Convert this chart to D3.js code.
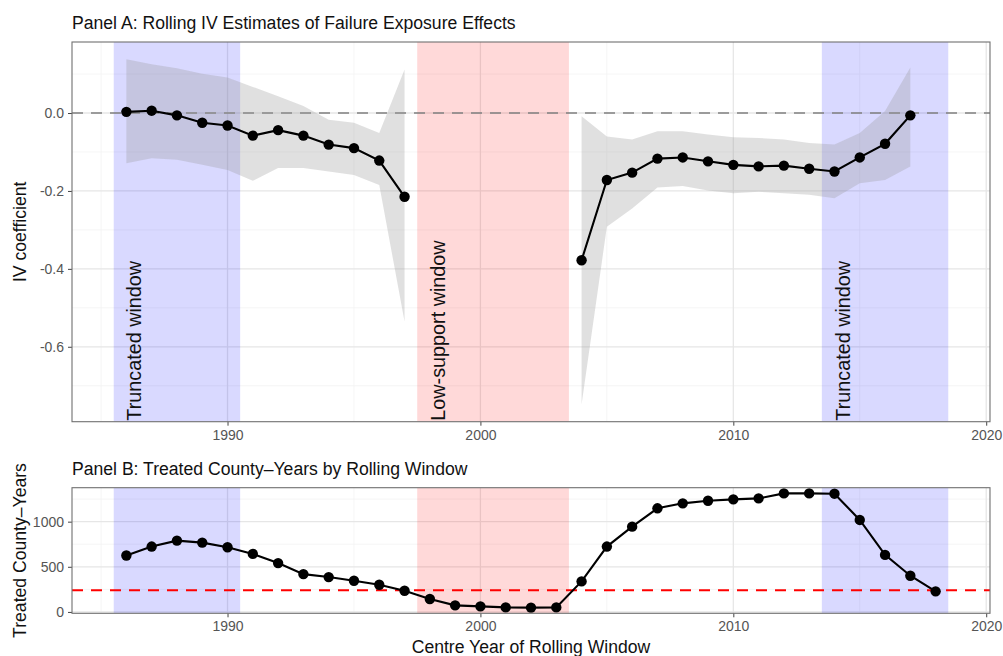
<!DOCTYPE html>
<html>
<head>
<meta charset="utf-8">
<script src="https://cdn.jsdelivr.net/npm/d3@7"></script>
<style>
  html, body { margin: 0; padding: 0; background: #fff; }
  svg { display: block; font-family: "Liberation Sans", Arial, Helvetica, sans-serif; }
</style>
</head>
<body>
<svg id="chart" width="1003" height="656"></svg>
<script>
// ---------------- Data ----------------
const ivYears = [1986,1987,1988,1989,1990,1991,1992,1993,1994,1995,1996,1997,
                 1998,1999,2000,2001,2002,2003,
                 2004,2005,2006,2007,2008,2009,2010,2011,2012,2013,2014,2015,2016,2017];
const ivEstimate = [0.003, 0.006, -0.006, -0.025, -0.032, -0.058, -0.044, -0.058, -0.081, -0.090, -0.122, -0.215,
                    null, null, null, null, null, null,
                    -0.378, -0.172, -0.153, -0.117, -0.114, -0.124, -0.133, -0.137, -0.135, -0.143, -0.150, -0.114, -0.079, -0.006];
const ivLower = [-0.129, -0.116, -0.120, -0.133, -0.146, -0.174, -0.141, -0.141, -0.150, -0.159, -0.185, -0.535,
                 null, null, null, null, null, null,
                 -0.748, -0.292, -0.245, -0.191, -0.187, -0.199, -0.206, -0.202, -0.206, -0.210, -0.219, -0.180, -0.172, -0.137];
const ivUpper = [0.138, 0.125, 0.115, 0.101, 0.091, 0.067, 0.043, 0.018, -0.017, -0.025, -0.051, 0.112,
                 null, null, null, null, null, null,
                 -0.008, -0.060, -0.068, -0.047, -0.047, -0.055, -0.062, -0.064, -0.068, -0.077, -0.081, -0.051, 0.005, 0.117];

const countYears = [1986,1987,1988,1989,1990,1991,1992,1993,1994,1995,1996,1997,1998,1999,2000,2001,2002,
                    2003,2004,2005,2006,2007,2008,2009,2010,2011,2012,2013,2014,2015,2016,2017,2018];
const treatedCounts = [625, 724, 790, 768, 717, 643, 541, 419, 386, 345, 301, 235, 143, 73, 62, 50, 48,
                       50, 338, 724, 945, 1148, 1203, 1232, 1247, 1258, 1313, 1313, 1310, 1019, 632, 401, 228];
const supportThreshold = 240;

const shadeStart = [1985.5, 1997.5, 2013.5];
const shadeEnd   = [1990.5, 2003.5, 2018.5];
const shadeType  = ["truncated", "lowsupport", "truncated"];
const shadeLabel = ["Truncated window", "Low-support window", "Truncated window"];
const shadeLabelYear = [1986, 1998, 2014];

const xTicks = [1990, 2000, 2010, 2020];
const xMinorTicks = [1985, 1995, 2005, 2015];
const ivTicks = [0.0, -0.2, -0.4, -0.6];
const ivMinorTicks = [0.1, -0.1, -0.3, -0.5, -0.7];
const countTicks = [0, 500, 1000];
const countMinorTicks = [250, 750, 1250];

const titleA = "Panel A: Rolling IV Estimates of Failure Exposure Effects";
const titleB = "Panel B: Treated County\u2013Years by Rolling Window";
const yTitleA = "IV coefficient";
const yTitleB = "Treated County\u2013Years";
const xTitle = "Centre Year of Rolling Window";

// ---------------- Layout ----------------
const svg = d3.select("#chart");
const L = 72, R = 990;
const A = { top: 42, bottom: 421.7 };
const B = { top: 487.7, bottom: 613.3 };
const shadeColor = { truncated: "#0000ff", lowsupport: "#ff0000" };

function expand(lo, hi) { const d = (hi - lo) * 0.05; return [lo - d, hi + d]; }

const xDom = expand(d3.min(shadeStart), d3.max(shadeEnd));
const x = d3.scaleLinear().domain(xDom).range([L, R]);

const ivAll = ivLower.concat(ivUpper, ivEstimate).filter(v => v != null);
const yA = d3.scaleLinear().domain(expand(d3.min(ivAll), d3.max(ivAll))).range([A.bottom, A.top]);
const yB = d3.scaleLinear().domain(expand(d3.min(treatedCounts), d3.max(treatedCounts))).range([B.bottom, B.top]);

const ivData = ivYears.map((yr, i) => ({ yr, est: ivEstimate[i], lo: ivLower[i], hi: ivUpper[i] }));
const countData = countYears.map((yr, i) => ({ yr, n: treatedCounts[i] }));

function panel(box, y, yTicks, yMinor, yFmt, clipId) {
  const g = svg.append("g");
  g.append("defs").append("clipPath").attr("id", clipId)
    .append("rect").attr("x", L).attr("y", box.top).attr("width", R - L).attr("height", box.bottom - box.top);
  g.append("rect").attr("x", L).attr("y", box.top).attr("width", R - L).attr("height", box.bottom - box.top)
    .attr("fill", "#fff");
  const grid = g.append("g").attr("clip-path", `url(#${clipId})`);
  grid.selectAll(".vminor").data(xMinorTicks).join("line")
    .attr("x1", d => x(d)).attr("x2", d => x(d)).attr("y1", box.top).attr("y2", box.bottom)
    .attr("stroke", "#f2f2f2").attr("stroke-width", 0.8);
  grid.selectAll(".hminor").data(yMinor).join("line")
    .attr("x1", L).attr("x2", R).attr("y1", d => y(d)).attr("y2", d => y(d))
    .attr("stroke", "#f2f2f2").attr("stroke-width", 0.8);
  grid.selectAll(".vmajor").data(xTicks).join("line")
    .attr("x1", d => x(d)).attr("x2", d => x(d)).attr("y1", box.top).attr("y2", box.bottom)
    .attr("stroke", "#e6e6e6").attr("stroke-width", 1.3);
  grid.selectAll(".hmajor").data(yTicks).join("line")
    .attr("x1", L).attr("x2", R).attr("y1", d => y(d)).attr("y2", d => y(d))
    .attr("stroke", "#e6e6e6").attr("stroke-width", 1.3);
  grid.selectAll(".shade").data(shadeStart).join("rect")
    .attr("x", (d, i) => x(d)).attr("width", (d, i) => x(shadeEnd[i]) - x(d))
    .attr("y", box.top).attr("height", box.bottom - box.top)
    .attr("fill", (d, i) => shadeColor[shadeType[i]]).attr("fill-opacity", 0.15);
  const xAxis = d3.axisBottom(x).tickValues(xTicks).tickSize(4).tickPadding(4).tickFormat(d3.format("d"));
  const gx = g.append("g").attr("transform", `translate(0,${box.bottom})`).call(xAxis);
  const yAxis = d3.axisLeft(y).tickValues(yTicks).tickSize(4).tickPadding(4).tickFormat(yFmt);
  const gy = g.append("g").attr("transform", `translate(${L},0)`).call(yAxis);
  [gx, gy].forEach(a => {
    a.select(".domain").remove();
    a.selectAll(".tick line").attr("stroke", "#444").attr("stroke-width", 1);
    a.selectAll(".tick text").attr("fill", "#555").style("font-size", "14px")
      .style("font-family", "'Liberation Sans', Arial, sans-serif");
  });
  return { g, grid };
}

function border(box) {
  svg.append("rect").attr("x", L).attr("y", box.top).attr("width", R - L).attr("height", box.bottom - box.top)
    .attr("fill", "none").attr("stroke", "#707070").attr("stroke-width", 1.1);
}

const hyphenFmt = f => (v => f(v).replace("\u2212", "-"));

// ---------------- Panel A ----------------
const pA = panel(A, yA, ivTicks, ivMinorTicks, hyphenFmt(d3.format(".1f")), "clipA");
pA.grid.append("line").attr("x1", L).attr("x2", R).attr("y1", yA(0)).attr("y2", yA(0))
  .attr("stroke", "#808080").attr("stroke-width", 1.7).attr("stroke-dasharray", "11,8");
pA.grid.append("path").datum(ivData)
  .attr("d", d3.area().defined(d => d.lo != null).x(d => x(d.yr)).y0(d => yA(d.lo)).y1(d => yA(d.hi)))
  .attr("fill", "#999999").attr("fill-opacity", 0.3);
pA.grid.append("path").datum(ivData)
  .attr("d", d3.line().defined(d => d.est != null).x(d => x(d.yr)).y(d => yA(d.est)))
  .attr("fill", "none").attr("stroke", "#000").attr("stroke-width", 2.1);
pA.grid.selectAll(".pt").data(ivData.filter(d => d.est != null)).join("circle")
  .attr("cx", d => x(d.yr)).attr("cy", d => yA(d.est)).attr("r", 5.2).attr("fill", "#000");
pA.g.selectAll(".lab").data(shadeLabel).join("text")
  .attr("transform", (d, i) => `translate(${x(shadeLabelYear[i])},${A.bottom - 1}) rotate(-90)`)
  .attr("dy", "0.76em").attr("text-anchor", "start")
  .style("font-size", "19.8px").attr("fill", "#111").text(d => d);
border(A);

// ---------------- Panel B ----------------
const pB = panel(B, yB, countTicks, countMinorTicks, d3.format("d"), "clipB");
pB.grid.append("line").attr("x1", L).attr("x2", R).attr("y1", yB(supportThreshold)).attr("y2", yB(supportThreshold))
  .attr("stroke", "#ff0000").attr("stroke-width", 2).attr("stroke-dasharray", "11,8");
pB.grid.append("path").datum(countData)
  .attr("d", d3.line().x(d => x(d.yr)).y(d => yB(d.n)))
  .attr("fill", "none").attr("stroke", "#000").attr("stroke-width", 2.1);
pB.grid.selectAll(".pt").data(countData).join("circle")
  .attr("cx", d => x(d.yr)).attr("cy", d => yB(d.n)).attr("r", 5.2).attr("fill", "#000");
border(B);

// ---------------- Titles ----------------
svg.append("text").attr("x", L).attr("y", 29.3).style("font-size", "17.6px").attr("fill", "#111").text(titleA);
svg.append("text").attr("x", L).attr("y", 475).style("font-size", "17.6px").attr("fill", "#111").text(titleB);
svg.append("text").attr("x", (L + R) / 2).attr("y", 653).attr("text-anchor", "middle")
  .style("font-size", "17.6px").attr("fill", "#111").text(xTitle);
svg.append("text").attr("transform", `translate(25.5,${(A.top + A.bottom) / 2}) rotate(-90)`)
  .attr("text-anchor", "middle").style("font-size", "17.6px").attr("fill", "#111").text(yTitleA);
svg.append("text").attr("transform", `translate(25.5,${(B.top + B.bottom) / 2}) rotate(-90)`)
  .attr("text-anchor", "middle").style("font-size", "17.6px").attr("fill", "#111").text(yTitleB);
</script>
</body>
</html>
